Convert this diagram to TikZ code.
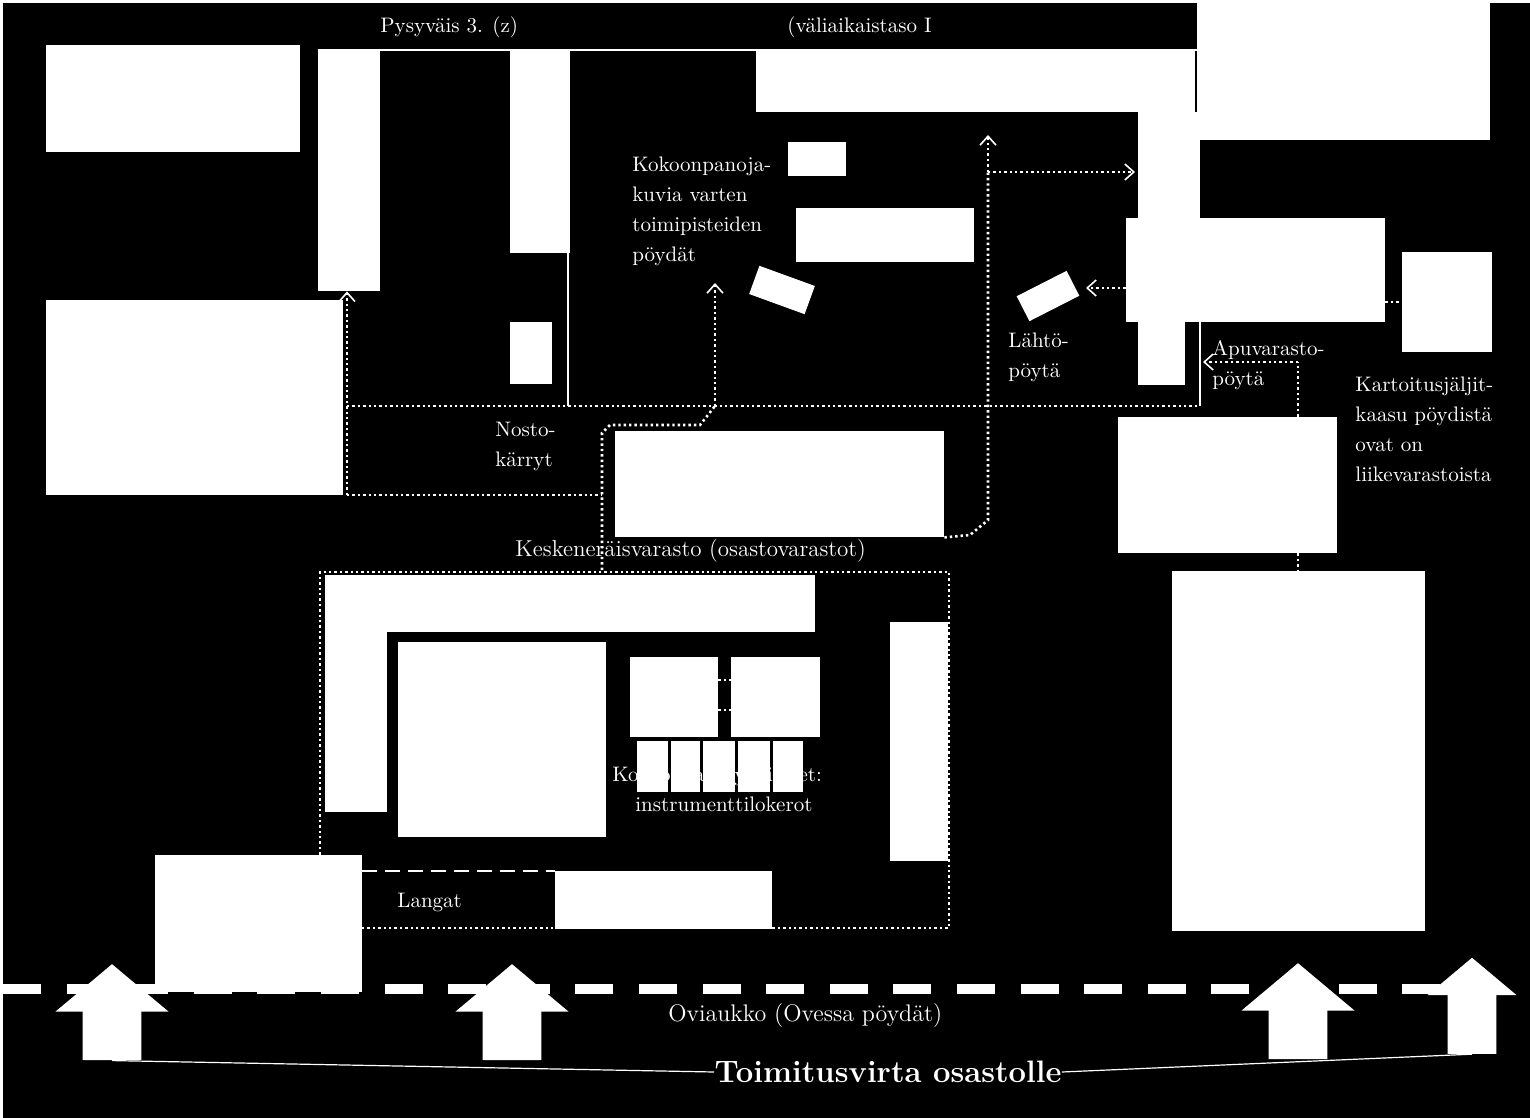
\documentclass[tikz,border=0pt]{standalone}
\usetikzlibrary{fit,shapes.arrows,arrows.meta}

\tikzset{
  block/.style={fill=white,draw=none,inner sep=0pt},
  label/.style={text=white,inner sep=0pt,anchor=north west,align=left,font=\fontsize{10.5}{15}\selectfont},
  conn/.style={white,line width=1.3pt,dash pattern=on 1.2pt off 1.5pt},
  wall/.style={white,line width=1.2pt},
  flow/.style={fill=white,draw=none,single arrow,rotate=90,single arrow head indent=0pt,single arrow tip angle=100,inner sep=14.5pt,single arrow head extend=13.5pt,minimum width=56pt,minimum height=48pt,transform shape=false},
}

\begin{document}
\begin{tikzpicture}[x=0.5pt,y=-0.5pt,>={Straight Barb[width=8pt,length=4.5pt,line width=0.8pt]}]
\fill[black] (3,3) rectangle (1530,1118);
\useasboundingbox (0,0) rectangle (1530,1118);
% texts that the blocks cover in part
\node[label] (lblWork) at (612,767) {Kokoonpanotyöpisteet:};
\draw[white,line width=5pt,dash pattern=on 19pt off 12.8pt] (3,989) -- (1440,989);
% walls and shelves, upper part
\node[block,fit={(1197,3) (1490,140)}] (blkCorner) {};
\node[block,fit={(46,45) (300,152)}] (blkOffice) {};
\node[block,fit={(318,50) (380,291)}] (blkWallA) {};
\node[block,fit={(510,50) (570,253)}] (blkWallB) {};
\node[block,fit={(756,50) (1195,112)}] (blkWallC) {};
\node[block,fit={(1138,112) (1200,218)}] (blkWallD) {};
\node[block,fit={(1126,218) (1385,322)}] (blkHall) {};
\node[block,fit={(1138,322) (1185,385)}] (blkWallE) {};
\node[block,fit={(46,300) (343,495)}] (blkStore) {};
\node[block,fit={(510,322) (552,384)}] (blkSmall) {};
\node[block,fit={(788,142) (846,176)}] (blkDesk) {};
\node[block,fit={(796,208) (974,262)}] (blkTable) {};
\node[block,rotate=-20,minimum width=29.5pt,minimum height=15pt] (blkTiltA) at (782,290) {};
\node[block,rotate=27,minimum width=28pt,minimum height=14pt] (blkTiltB) at (1048,296) {};
\node[block,fit={(1402,252) (1492,352)}] (blkSide) {};
\node[block,fit={(1118,417) (1337,553)}] (blkLift) {};
\node[block,fit={(615,431) (944,537)}] (blkBuffer) {};
% lower part
\node[block,fit={(1172,571) (1425,931)}] (blkBig) {};
\node[block,fit={(325,575) (815,632)}] (blkShelfT) {};
\node[block,fit={(325,632) (387,812)}] (blkShelfL) {};
\node[block,fit={(398,642) (606,837)}] (blkSquare) {};
\node[block,fit={(630,657) (718,737)}] (blkMachA) {};
\node[block,fit={(731,657) (820,737)}] (blkMachB) {};
\foreach \nm/\xa/\xb in {A/637/668,B/671/700,C/703/735,D/738/770,E/773/803}
  \node[block,fit={(\xa,741) (\xb,792)}] (blkBench\nm) {};
\node[block,fit={(890,622) (948,861)}] (blkRack) {};
\node[block,fit={(155,855) (362,992)}] (blkDock) {};
\node[block,fit={(555,871) (772,929)}] (blkPallet) {};
% flow arrows
\node[flow] (arrA) at (112,1024.5) {};
\node[flow] (arrB) at (512,1024.5) {};
\node[flow] (arrC) at (1298,1023.5) {};
\node[flow,inner sep=12pt,single arrow head extend=10pt,minimum width=44pt] (arrD) at (1472,1016) {};
% other texts
\node[label] (lblTopA) at (380,16) {Pysyväis 3. (z)};
\node[label] (lblTopB) at (787,16) {(väliaikaistaso I};
\node[label] (lblAssy) at (632,157) {Kokoonpanoja-\\kuvia varten\\toimipisteiden\\pöydät};
\node[label] (lblOut) at (1008,333) {Lähtö-\\pöytä};
\node[label] (lblAux) at (1212,340) {Apuvarasto-\\pöytä};
\node[label] (lblRight) at (1355,377) {Kartoitusjäljit-\\kaasu pöydistä\\ovat on\\liikevarastoista};
\node[label] (lblLift) at (495,422) {Nosto-\\kärryt};
\node[label,font=\fontsize{11.5}{15}\selectfont] (lblBuffer) at (515,539) {Keskeneräisvarasto (osastovarastot)};
\node[label] (lblTools) at (635,797) {instrumenttilokerot};
\node[label] (lblPallet) at (397,893) {Langat};
\node[label,font=\fontsize{12}{15}\selectfont] (lblDoor) at (668,1003) {Oviaukko (Ovessa pöydät)};
\node[text=white,inner sep=0pt,font=\fontsize{15.5}{18}\bfseries\selectfont] (lblFlow) at (888,1072) {Toimitusvirta osastolle};
% connectors
\coordinate (busL) at (347,406);
\coordinate (busR) at (1200,406);
\coordinate (lowL) at (347,495);
\coordinate (lowR) at (602,495);
\coordinate (jB) at (568,406);
\coordinate (jC) at (715,406);
\coordinate (tipC) at (715,283);
\coordinate (tipE) at (988,135);
\coordinate (jE) at (988,172);
\coordinate (tipF) at (1135,172);
\coordinate (tipG) at (1086,288);
\coordinate (jH) at (1298,362);
\coordinate (tipH) at (1203,362);
\coordinate (jJ) at (725,680);
\coordinate (jK) at (725,710);
\coordinate (frNW) at (320,572);
\coordinate (frNE) at (949,572);
\coordinate (frSE) at (949,928);
\draw[white,line width=1pt] (blkWallA.north west) -- (blkCorner.west |- blkWallA.north);
\draw[conn] (busL) -- (busR);
\draw[wall] (busR) -- (blkHall.south -| busR);
\draw[conn,->] (lowL) -- (blkWallA.south -| lowL);
\draw[conn] (lowL) -- (lowR);
\draw[wall] (jB) -- (blkWallB.south -| jB);
\draw[conn] (602,570) -- (602,433) -- (610,425) -- (700,425) -- (jC);
\draw[conn,->] (jC) -- (tipC);
\draw[conn] (blkBuffer.south east) -- (970,535) -- (988,520) -- (jE);
\draw[conn,->] (jE) -- (tipE);
\draw[conn,->] (jE) -- (tipF);
\draw[conn,->] (blkHall.west |- tipG) -- (tipG);
\draw[conn] (blkHall.east |- blkSide.west) -- (blkSide.west);
\draw[conn] (blkLift.north -| jH) -- (jH);
\draw[conn,->] (jH) -- (tipH);
\draw[conn] (blkLift.south -| jH) -- (blkBig.north -| jH);
\draw[conn] (blkMachA.east |- jJ) -- (blkMachB.west |- jJ);
\draw[conn] (blkMachA.east |- jK) -- (blkMachB.west |- jK);
\draw[conn] (blkDock.north -| frNW) -- (frNW) -- (frNE) -- (frSE) -- (blkDock.east |- frSE);
\draw[white,line width=1pt,dash pattern=on 7.5pt off 4pt] (blkDock.east |- blkPallet.north) -- (blkPallet.north west);
\draw[white,line width=0.6pt] (arrA.west) -- (lblFlow.west);
\draw[white,line width=0.6pt] (lblFlow.east) -- (arrD.west);
\end{tikzpicture}
\end{document}
